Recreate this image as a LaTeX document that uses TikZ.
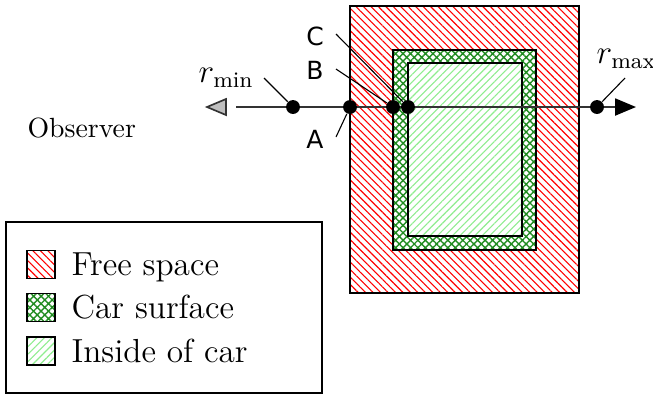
\documentclass[tikz,border=0pt]{standalone}
\usepackage{fontspec}
\usepackage{amsmath}
\usetikzlibrary{patterns.meta,arrows.meta}
\newfontfamily\labelfont{DejaVu Sans}
\definecolor{freered}{rgb}{1,0,0}
\definecolor{surfgreen}{rgb}{0.13,0.55,0.13}
\definecolor{insidegreen}{rgb}{0.56,0.93,0.56}
\tikzset{
  freearea/.style={draw=black,line width=0.5pt,
    pattern={Lines[angle=-45,distance=1.9pt,line width=0.4pt]},pattern color=freered},
  surfarea/.style={draw=black,line width=0.5pt,preaction={fill=white},
    pattern={Hatch[angle=45,distance=1.9pt,line width=0.5pt]},pattern color=surfgreen},
  insidearea/.style={draw=black,line width=0.5pt,preaction={fill=white},
    pattern={Lines[angle=45,distance=1.9pt,line width=0.4pt]},pattern color=insidegreen},
  hitdot/.style={circle,fill=black,inner sep=0pt,minimum size=5pt},
  leader/.style={line width=0.4pt},
  letter/.style={font=\labelfont\fontsize{9}{11}\selectfont,inner sep=0pt}
}

\begin{document}
\begin{tikzpicture}[x=0.36pt,y=-0.36pt]
  \useasboundingbox (0,0) rectangle (653,397);
  % free space, car surface, inside of car
  \draw[freearea]   (350,6)  rectangle (579,293);
  \draw[surfarea]   (393,50) rectangle (536,250);
  \draw[insidearea] (408,63) rectangle (522,236);
  % the ray
  \coordinate (near) at (236,107);
  \coordinate (far)  at (636,107);
  \draw[black!80,line width=0.7pt,-{Triangle[length=7.5pt,width=6.1pt,color=black]}]
    (near) -- (far);
  \draw[black!80,line width=0.6pt,fill=black!25] (207,107) -- (226,99) -- (226,115) -- cycle;
  % labels
  \node[font=\large,anchor=base west,inner sep=0pt] (lrmin) at (198,82) {$r_{\min}$};
  \node[font=\large,anchor=base west,inner sep=0pt] (lrmax) at (596,63) {$r_{\max}$};
  \node[letter] (lA) at (315,139) {A};
  \node[letter] (lB) at (315,70)  {B};
  \node[letter] (lC) at (315,36)  {C};
  \node[anchor=base west,inner sep=0pt] (obs) at (27,137) {Observer};
  % hit points
  \node[hitdot] (rmin) at (293,107) {};
  \node[hitdot] (ptA)  at (350,107) {};
  \node[hitdot] (ptB)  at (393,107) {};
  \node[hitdot] (ptC)  at (408,107) {};
  \node[hitdot] (rmax) at (597,107) {};
  \coordinate (trmin) at (264,78);
  \coordinate (trmax) at (625,78);
  \coordinate (tA) at (336,137);
  \coordinate (tB) at (336,69);
  \coordinate (tC) at (336,34);
  \draw[leader] (trmin) -- (rmin);
  \draw[leader] (trmax) -- (rmax);
  \draw[leader] (tA) -- (ptA);
  \draw[leader] (tB) -- (ptB);
  \draw[leader] (tC) -- (ptC);
  % legend
  \draw[line width=0.5pt] (6,222) rectangle (322,393);
  \foreach \ly/\ls/\lt in {264.5/freearea/Free space,307.5/surfarea/Car surface,351/insidearea/Inside of car} {
    \draw[\ls] (27,\ly-14) rectangle (55,\ly+14);
    \node[font=\large,anchor=base west,inner sep=0pt] (\ls-key) at (71,\ly+11) {\lt};}
\end{tikzpicture}
\end{document}
